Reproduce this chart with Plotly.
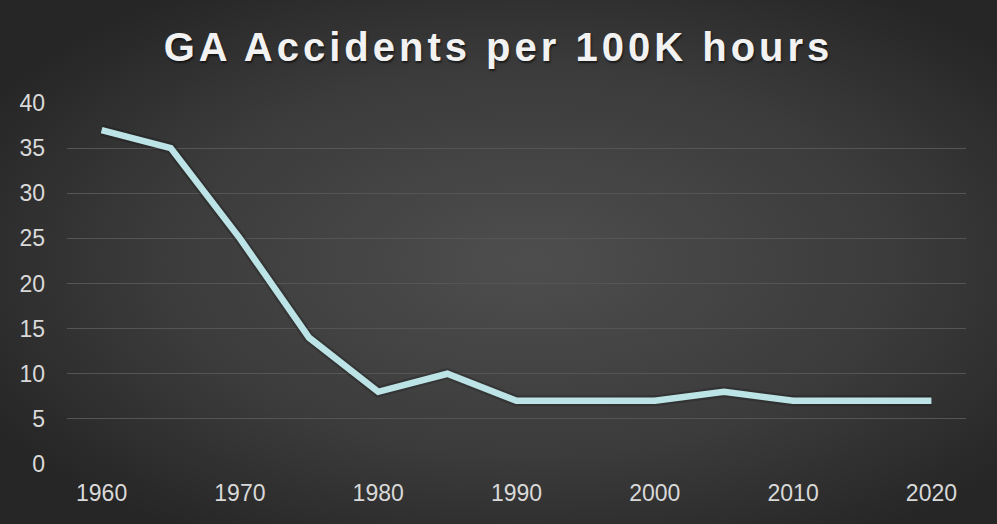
import base64
import plotly.graph_objects as go

years = [1960, 1965, 1970, 1975, 1980, 1985, 1990, 1995, 2000, 2005, 2010, 2015, 2020]
accidents = [37, 35, 25, 14, 8, 10, 7, 7, 7, 8, 7, 7, 7]
x_ticks = [1960, 1970, 1980, 1990, 2000, 2010, 2020]
y_ticks = [0, 5, 10, 15, 20, 25, 30, 35, 40]
title_text = "GA Accidents per 100K hours"

W, H = 997, 524
ML, MR, MT, MB = 67, 31, 103, 60
PW, PH = W - ML - MR, H - MT - MB

svg = f'''<svg xmlns="http://www.w3.org/2000/svg" width="{W}" height="{H}" viewBox="0 0 {W} {H}" preserveAspectRatio="none">
<defs><radialGradient id="g" cx="0.53" cy="0.5" r="0.62" gradientUnits="objectBoundingBox">
<stop offset="0" stop-color="#4e4e4e"/><stop offset="0.6" stop-color="#3b3b3b"/><stop offset="1" stop-color="#262626"/>
</radialGradient></defs>
<rect width="{W}" height="{H}" fill="url(#g)"/></svg>'''
bg_src = "data:image/svg+xml;base64," + base64.b64encode(svg.encode()).decode()

fig = go.Figure()
fig.add_trace(go.Scatter(
    x=years, y=accidents, mode="lines",
    line=dict(color="rgba(0,0,0,0.18)", width=11),
    hoverinfo="skip",
))
fig.add_trace(go.Scatter(
    x=years, y=accidents, mode="lines",
    line=dict(color="#bce4e6", width=6.5, shape="linear"),
    hoverinfo="x+y",
))

fig.update_layout(
    width=W, height=H,
    margin=dict(l=ML, r=MR, t=MT, b=MB),
    paper_bgcolor="#333333",
    plot_bgcolor="rgba(0,0,0,0)",
    showlegend=False,
    font=dict(family="Liberation Sans, Arial, sans-serif", color="#d9d9d9", size=23),
    images=[dict(source=bg_src, xref="paper", yref="paper",
                 x=-ML / PW, y=1 + MT / PH,
                 sizex=W / PW, sizey=H / PH, xanchor="left", yanchor="top",
                 layer="below", sizing="stretch")],
    title=dict(
        text=f'<b><span style="letter-spacing:4px">{title_text}</span></b>',
        x=0.5, xanchor="center", xref="container",
        y=1 - 47 / H, yanchor="middle", yref="container",
        font=dict(family="Liberation Sans, Arial, sans-serif", size=40, color="#f2f2f2",
                  shadow="1px 2px 2px rgba(0,0,0,0.55)"),
    ),
    xaxis=dict(
        range=[1957.5, 2022.5], tickvals=x_ticks, ticktext=[str(v) for v in x_ticks],
        showgrid=False, zeroline=False, showline=False, ticks="",
        tickfont=dict(size=23, color="#d9d9d9"), ticklabelstandoff=13,
        fixedrange=True,
    ),
    yaxis=dict(
        range=[0, 40], tickvals=y_ticks,
        showgrid=True, gridcolor="#555555", gridwidth=1.2,
        zeroline=False, showline=False, ticks="",
        tickfont=dict(size=23, color="#d9d9d9"), ticklabelstandoff=21,
        fixedrange=True,
    ),
)

fig.write_html("out.html")
